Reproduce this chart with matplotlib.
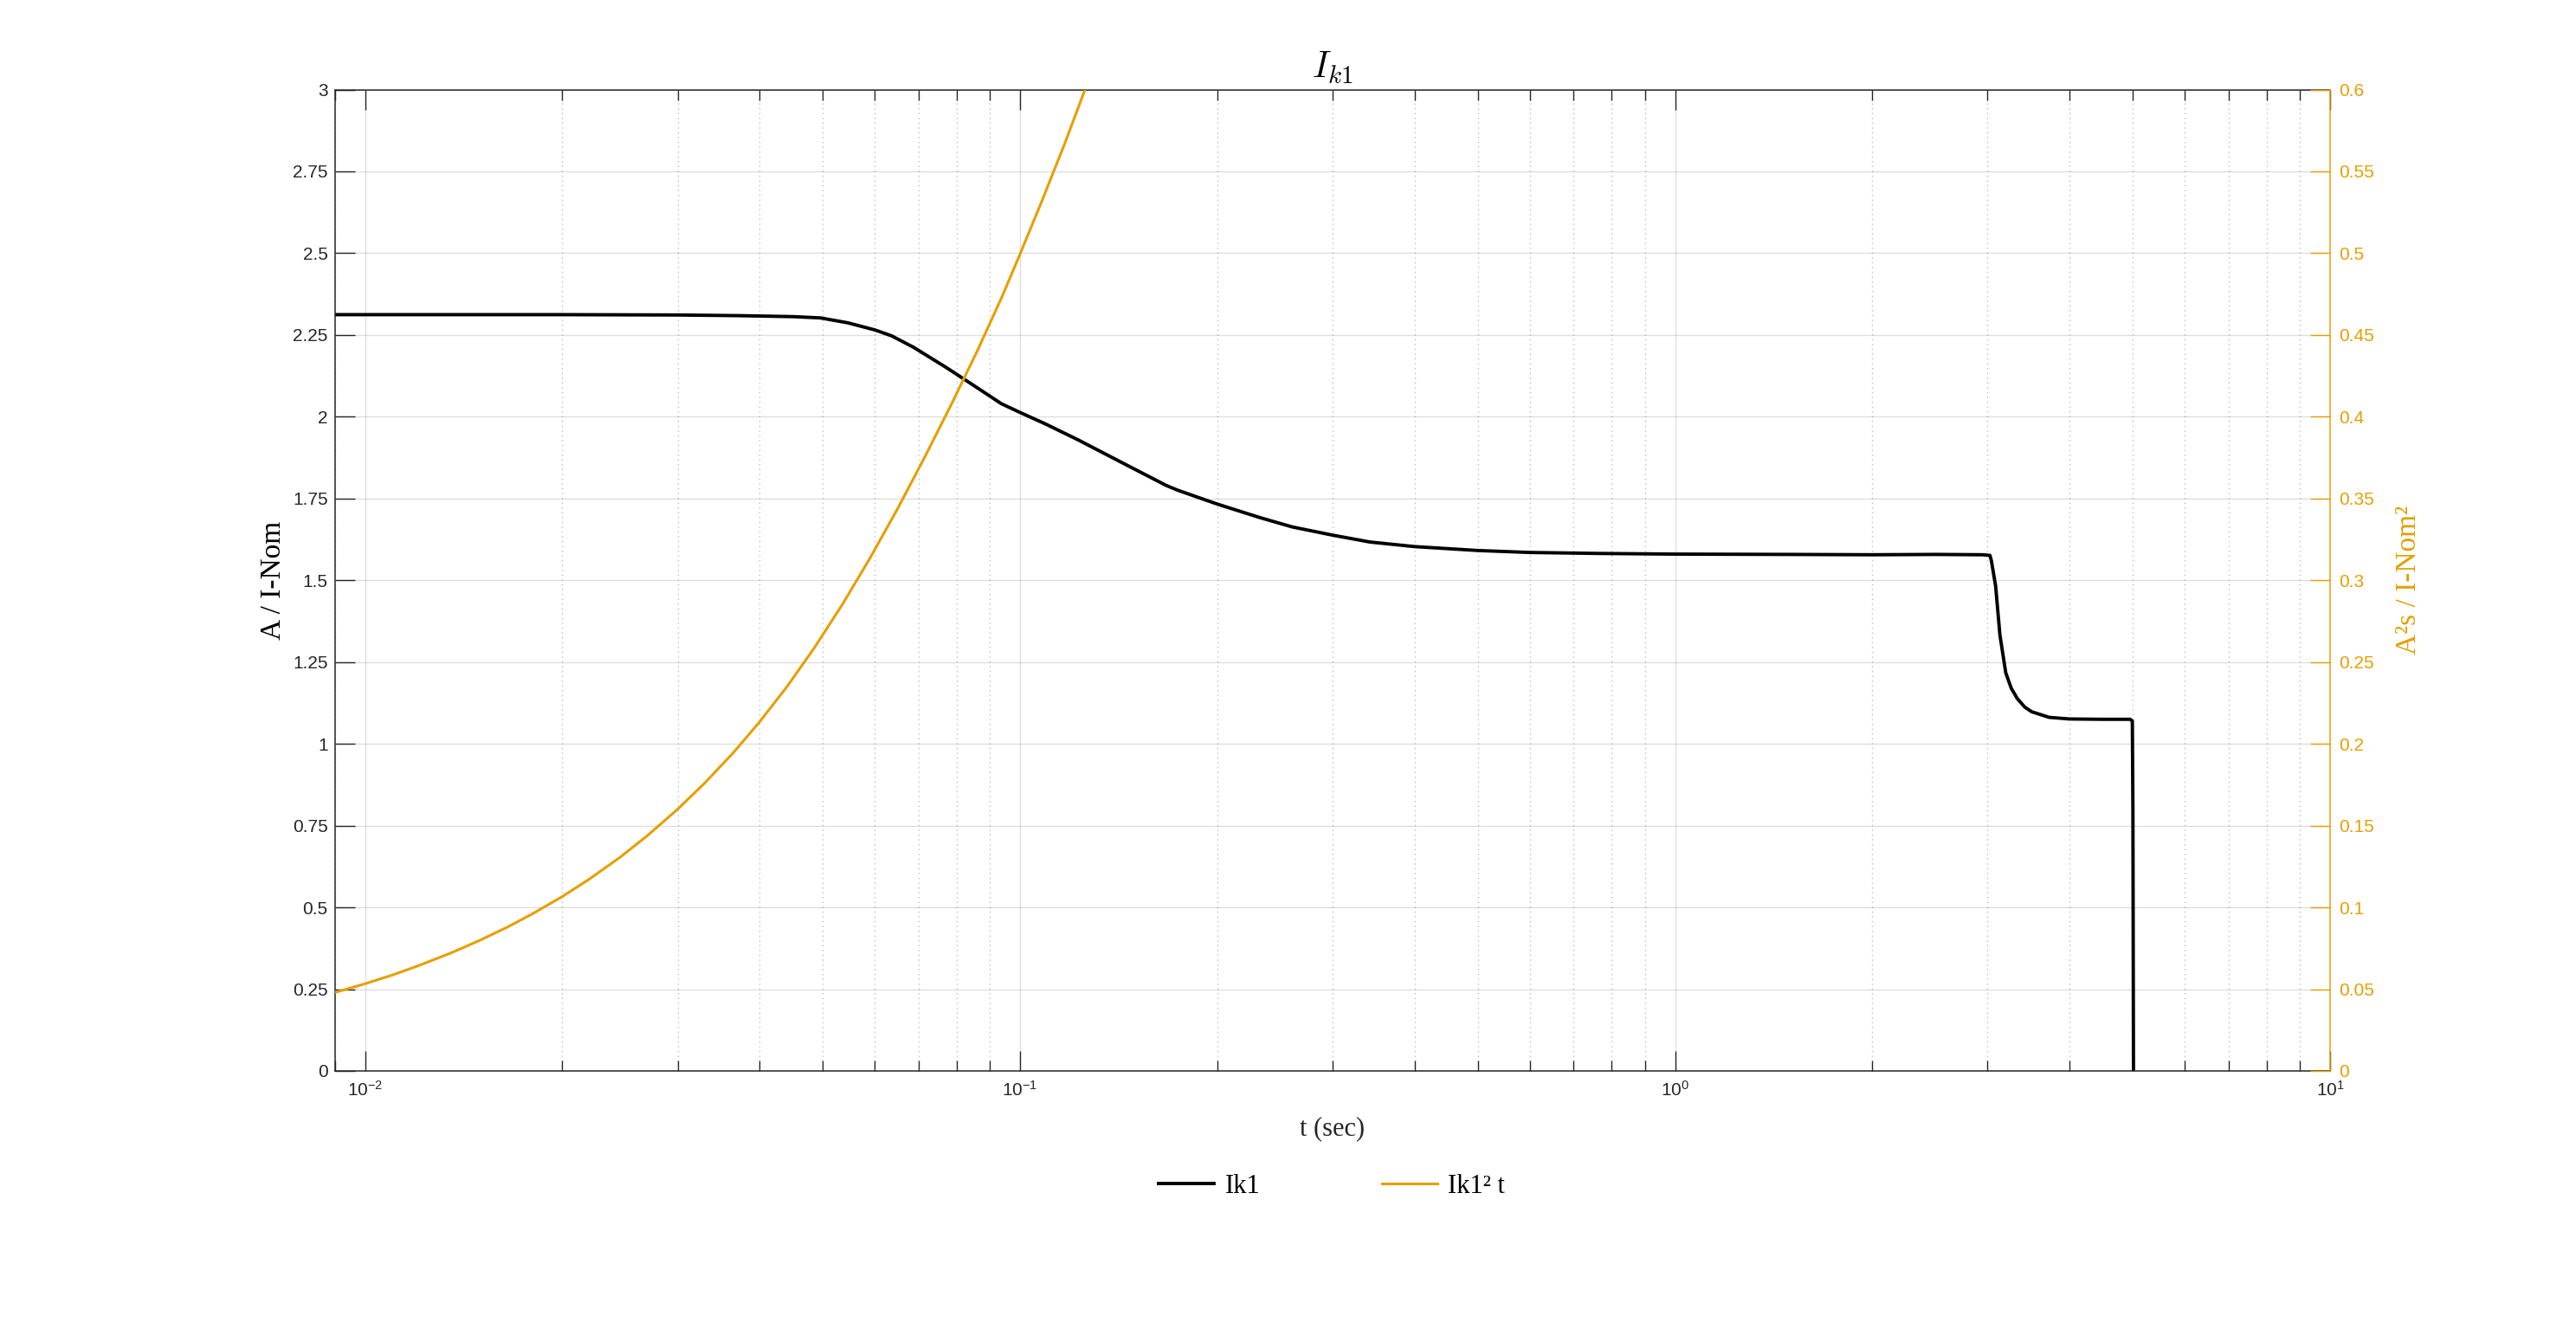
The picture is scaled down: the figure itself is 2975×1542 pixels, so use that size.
import numpy as np
import matplotlib
matplotlib.use('Agg')
import matplotlib.pyplot as plt
from matplotlib.ticker import LogLocator, NullFormatter, FixedLocator, FixedFormatter

plt.rcParams['font.family'] = ['Liberation Sans', 'DejaVu Sans']
plt.rcParams['mathtext.fontset'] = 'cm'
plt.rcParams['axes.unicode_minus'] = False

# Ik1 current (A / I-Nom)
t_ik1 = [0.009, 0.02, 0.03, 0.0371, 0.045, 0.0496, 0.0546, 0.0601, 0.0637, 0.0688,
         0.0772, 0.0867, 0.0936, 0.1, 0.1093, 0.1227, 0.1433, 0.1577, 0.1671, 0.1737,
         0.186, 0.2, 0.232, 0.2604, 0.3, 0.342, 0.4, 0.5, 0.6, 0.765,
         1.0, 1.5, 2.0, 2.5, 2.95, 3.025, 3.04, 3.086, 3.133, 3.198,
         3.26, 3.331, 3.42, 3.504, 3.724, 4.0, 4.5, 4.95, 4.99, 5.0, 5.01]
ik1 = [2.312, 2.312, 2.311, 2.309, 2.306, 2.302, 2.287, 2.265, 2.247, 2.212,
       2.150, 2.084, 2.040, 2.013, 1.978, 1.929, 1.859, 1.816, 1.790, 1.776,
       1.755, 1.733, 1.692, 1.663, 1.638, 1.617, 1.603, 1.591, 1.585, 1.582,
       1.580, 1.579, 1.578, 1.579, 1.578, 1.576, 1.560, 1.482, 1.332, 1.217,
       1.170, 1.138, 1.112, 1.098, 1.081, 1.076, 1.075, 1.075, 1.070, 0.80, 0.0]

# Ik1^2 t (A^2 s / I-Nom^2)
t_i2t = [0.009, 0.010, 0.011, 0.012, 0.0135, 0.015, 0.0165, 0.018, 0.02, 0.022,
         0.0245, 0.027, 0.03, 0.033, 0.0365, 0.04, 0.044, 0.0485, 0.0535, 0.059,
         0.065, 0.0715, 0.0785, 0.086, 0.094, 0.1, 0.108, 0.117, 0.127, 0.14]
i2t = [0.0480, 0.0533, 0.0586, 0.0640, 0.0720, 0.0800, 0.0880, 0.0960, 0.1066, 0.1173,
       0.1306, 0.1440, 0.1600, 0.1760, 0.1946, 0.2133, 0.2346, 0.2586, 0.2850, 0.3135,
       0.3437, 0.3752, 0.4074, 0.4401, 0.4740, 0.4995, 0.5320, 0.5670, 0.6050, 0.6500]

left_ticks = [0, 0.25, 0.5, 0.75, 1, 1.25, 1.5, 1.75, 2, 2.25, 2.5, 2.75, 3]
right_ticks = [0, 0.05, 0.1, 0.15, 0.2, 0.25, 0.3, 0.35, 0.4, 0.45, 0.5, 0.55, 0.6]

orange = '#E69F00'
dark = '#262626'

W, H = 2975, 1542
fig = plt.figure(figsize=(W / 100, H / 100), dpi=100)
ax1 = fig.add_axes([387 / W, 1 - 1237 / H, (2691 - 387) / W, (1237 - 103.5) / H])

ax1.plot(t_ik1, ik1, color='black', lw=2.8, label='Ik1')
ax1.set_xscale('log')
ax1.set_xlim(0.009, 10)
ax1.set_ylim(0, 3)
ax1.xaxis.set_major_locator(LogLocator(base=10))
ax1.xaxis.set_minor_locator(LogLocator(base=10, subs=np.arange(2, 10)))
ax1.xaxis.set_minor_formatter(NullFormatter())
ax1.yaxis.set_major_locator(FixedLocator(left_ticks))
ax1.yaxis.set_major_formatter(FixedFormatter([f'{v:g}' for v in left_ticks]))

ax1.grid(which='major', axis='both', color=dark, alpha=0.15, lw=1.0, ls='-')
ax1.grid(which='minor', axis='x', color=dark, alpha=0.3, lw=1.0, ls=(0, (1, 3)))

ax1.tick_params(axis='x', which='major', direction='in', length=16.5, width=1.0,
                top=True, labelsize=15, colors=dark, pad=8)
ax1.tick_params(axis='x', which='minor', direction='in', length=8.5, width=1.0, top=True, colors=dark)
ax1.tick_params(axis='y', which='major', direction='in', length=16.5, width=1.0,
                right=False, labelsize=15, colors=dark, pad=6)
for s in ['left', 'bottom', 'top']:
    ax1.spines[s].set_color(dark)
    ax1.spines[s].set_linewidth(1.1)
ax1.spines['right'].set_visible(False)

ax1.set_xlabel('t (sec)', family='Liberation Serif', fontsize=22, color=dark, labelpad=14)
ax1.set_ylabel('A / I-Nom', family='Liberation Serif', fontsize=24, color='black', labelpad=5)
ax1.set_title('$I_{k1}$', fontsize=30, pad=10)

ax2 = ax1.twinx()
ax2.plot(t_i2t, i2t, color=orange, lw=2.2, label='Ik1² t')
ax2.set_ylim(0, 0.6)
ax2.yaxis.set_major_locator(FixedLocator(right_ticks))
ax2.yaxis.set_major_formatter(FixedFormatter([f'{v:g}' for v in right_ticks]))
ax2.tick_params(axis='y', which='major', direction='in', length=16.5, width=1.0,
                labelsize=15, colors=orange, pad=7)
for s in ['left', 'bottom', 'top']:
    ax2.spines[s].set_visible(False)
ax2.spines['right'].set_color(orange)
ax2.spines['right'].set_linewidth(1.1)
ax2.set_ylabel('A²s / I-Nom²', family='Liberation Serif', fontsize=24, color=orange, labelpad=18)

h1, l1 = ax1.get_legend_handles_labels()
h2, l2 = ax2.get_legend_handles_labels()
fig.legend(h1 + h2, l1 + l2, loc='center', bbox_to_anchor=(0.517, 0.1115), ncol=2,
           frameon=False, handlelength=2.1, handletextpad=0.4, columnspacing=4.6,
           prop={'family': 'Liberation Serif', 'size': 22})

fig.savefig('out.png', dpi=100)
